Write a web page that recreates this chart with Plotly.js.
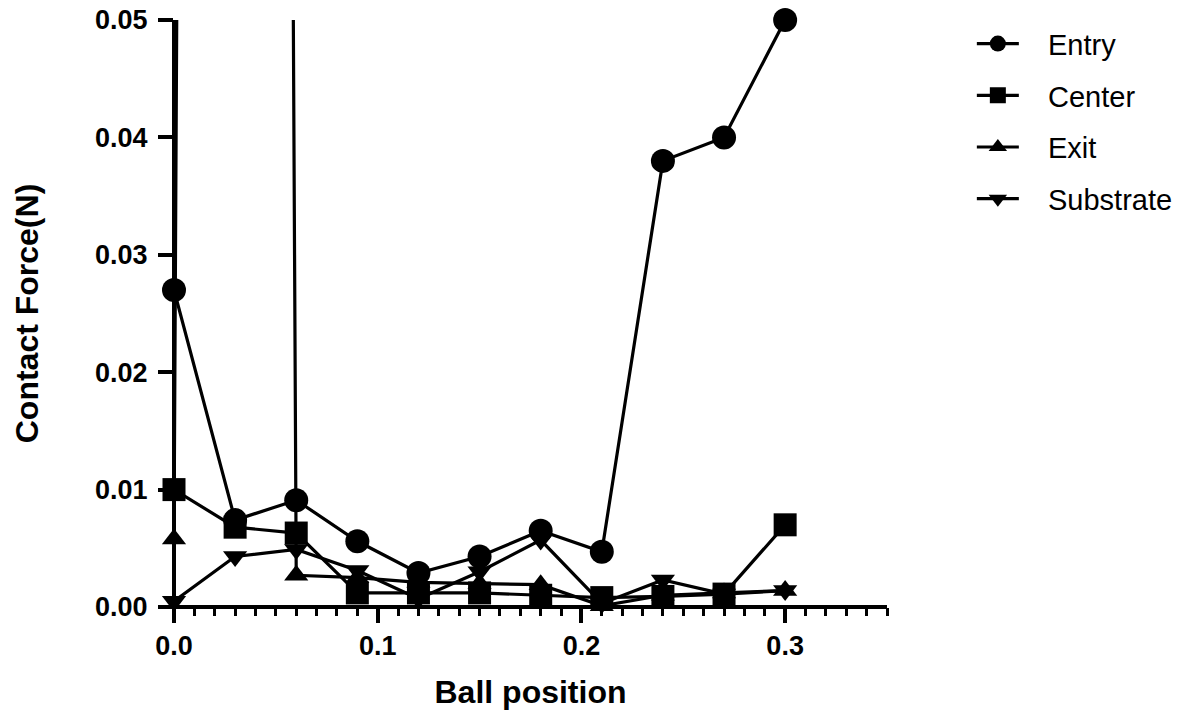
<!DOCTYPE html>
<html><head><meta charset="utf-8">
<script src="https://cdn.plot.ly/plotly-3.0.1.min.js"></script>
<style>html,body{margin:0;padding:0;background:#fff}#chart{width:1196px;height:715px}</style>
</head><body><div id="chart"></div>
<script>
// Ball position (x) and contact force (N) for each series
const positions = [0, 0.03, 0.06, 0.09, 0.12, 0.15, 0.18, 0.21, 0.24, 0.27, 0.30];
const entry     = [0.0270, 0.0074, 0.0091, 0.0056, 0.0029, 0.0043, 0.0065, 0.0047, 0.0380, 0.0400, 0.0500];
const center    = [0.0100, 0.0068, 0.0063, 0.0012, 0.0012, 0.0012, 0.0010, 0.0008, 0.0009, 0.0011, 0.0070];
// Exit at 0.03 is far off-scale (approx. 1.0 N), which produces the two near-vertical lines
const exitF     = [0.0058, 1.0, 0.0027, 0.0025, 0.0021, 0.0020, 0.0019, 0.0001, 0.0010, 0.0012, 0.0014];
const substrate = [0.0005, 0.0043, 0.0049, 0.0031, 0.0007, 0.0030, 0.0057, 0.0003, 0.0023, 0.0011, 0.0014];
const seriesNames = ['Entry', 'Center', 'Exit', 'Substrate'];
const xTickVals = [0, 0.1, 0.2, 0.3];
const yTickVals = [0, 0.01, 0.02, 0.03, 0.04, 0.05];

const FONT = 'Liberation Sans, Arial, Helvetica, sans-serif';
const PAD = '\u00a0\u00a0\u00a0';
const symbols = ['circle', 'square', 'triangle-up', 'triangle-down'];
const sizes = [24, 23, 21, 21];
const data = [entry, center, exitF, substrate].map((ys, i) => ({
  type: 'scatter', mode: 'lines+markers', name: PAD + seriesNames[i],
  x: positions, y: ys, legendgroup: 'g' + i, cliponaxis: false,
  line: {color: '#000', width: 3.2},
  marker: {symbol: symbols[i], size: sizes[i], color: '#000', line: {width: 0}}
}));

const layout = {
  width: 1196, height: 715,
  margin: {l: 174, r: 309, t: 20, b: 108},
  paper_bgcolor: '#fff', plot_bgcolor: '#fff',
  showlegend: true,
  legend: {x: 1.119, y: 1.003, xanchor: 'left', yanchor: 'top', tracegroupgap: 11, itemwidth: 42,
           font: {family: FONT, size: 29, color: '#000'}, bgcolor: 'rgba(0,0,0,0)'},
  xaxis: {
    range: [0, 0.35], tickvals: xTickVals, tickformat: '.1f',
    ticks: 'outside', ticklen: 15, tickwidth: 4, tickcolor: '#000',
    showline: false, showgrid: false, zeroline: true, zerolinewidth: 4, zerolinecolor: '#000',
    tickfont: {family: FONT, size: 27, color: '#000', weight: 'bold'},
    minor: {dtick: 0.01, tick0: 0, ticks: 'outside', ticklen: 8, tickwidth: 3, tickcolor: '#000', showgrid: false},
    title: {text: 'Ball position', font: {family: FONT, size: 32, color: '#000', weight: 'bold'}, standoff: 20}
  },
  yaxis: {
    range: [0, 0.05], tickvals: yTickVals, tickformat: '.2f',
    ticks: 'outside', ticklen: 15, tickwidth: 4, tickcolor: '#000', ticklabelstandoff: 5,
    showline: false, showgrid: false, zeroline: true, zerolinewidth: 4, zerolinecolor: '#000',
    tickfont: {family: FONT, size: 27, color: '#000', weight: 'bold'},
    title: {text: 'Contact Force(N)', font: {family: FONT, size: 32, color: '#000', weight: 'bold'}, standoff: 46}
  }
};
Plotly.newPlot('chart', data, layout, {displayModeBar: false, staticPlot: true});
</script></body></html>
